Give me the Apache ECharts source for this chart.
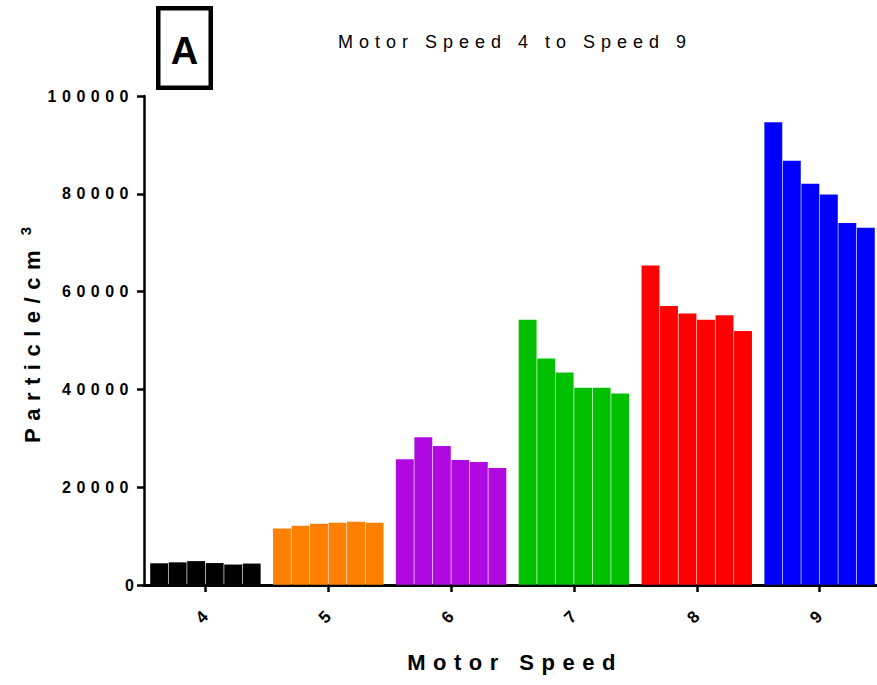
<!DOCTYPE html>
<html>
<head>
<meta charset="utf-8">
<script src="https://cdn.jsdelivr.net/npm/echarts@6/dist/echarts.min.js"></script>
<style>
html,body{margin:0;padding:0;background:#fff;overflow:hidden;}
#chart{width:882px;height:685px;}
</style>
</head>
<body>
<div id="chart"></div>
<script>
const categories = ['4', '5', '6', '7', '8', '9'];
const speed4 = [4500, 4700, 4950, 4550, 4250, 4450];
const speed5 = [11600, 12200, 12600, 12800, 13000, 12800];
const speed6 = [25800, 30300, 28500, 25600, 25200, 24000];
const speed7 = [54300, 46400, 43500, 40400, 40400, 39200];
const speed8 = [65400, 57100, 55600, 54300, 55200, 52000];
const speed9 = [94700, 86800, 82100, 79900, 74100, 73100];
const groupColors = ['#000000', '#FF8000', '#AF08E0', '#00C000', '#FF0000', '#0000FF'];
const yTicks = [0, 20000, 40000, 60000, 80000, 100000];
const titleText = 'Motor Speed 4 to Speed 9';
const xName = 'Motor Speed';
const yName = 'Particle/cm';
const ySup = '3';
const panelLabel = 'A';

const groups = [speed4, speed5, speed6, speed7, speed8, speed9];
const FONT = '"Liberation Sans", Arial, Helvetica, sans-serif';

const series = [];
for (let i = 0; i < 6; i++) {
  series.push({
    type: 'bar',
    name: 'rep' + (i + 1),
    barGap: 0,
    barCategoryGap: '9.6%',
    data: groups.map((g, k) => ({
      value: g[i],
      itemStyle: { color: groupColors[k], borderColor: 'rgba(255,255,255,0.07)', borderWidth: 0.6 }
    })),
    silent: true
  });
}

const chart = echarts.init(document.getElementById('chart'), null, { renderer: 'svg' });
chart.setOption({
  animation: false,
  backgroundColor: '#ffffff',
  grid: { left: 144, right: 1, top: 96, bottom: 100, containLabel: false },
  xAxis: {
    type: 'category',
    data: categories,
    axisLine: { show: true, lineStyle: { color: '#000', width: 3 } },
    axisTick: { show: true, alignWithLabel: true, length: 7, lineStyle: { color: '#000', width: 2.5 } },
    axisLabel: { rotate: 45, margin: 29, fontFamily: FONT, fontWeight: 'bold', fontSize: 17, color: '#000' },
    splitLine: { show: false }
  },
  yAxis: {
    type: 'value',
    min: yTicks[0],
    max: yTicks[yTicks.length - 1],
    interval: yTicks[1] - yTicks[0],
    axisLine: { show: true, lineStyle: { color: '#000', width: 2.5 } },
    axisTick: { show: true, length: 7, lineStyle: { color: '#000', width: 2.5 } },
    axisLabel: { margin: 10, fontFamily: FONT, fontWeight: 'bold', fontSize: 16, color: '#000', formatter: v => String(v) },
    splitLine: { show: false }
  },
  graphic: [
    { type: 'text', x: 515, y: 42, style: { text: titleText, font: '18px ' + FONT, fill: '#000', align: 'center', verticalAlign: 'middle' } },
    { type: 'text', x: 515, y: 662, style: { text: xName, font: 'bold 22px ' + FONT, fill: '#000', align: 'center', verticalAlign: 'middle' } },
    { type: 'text', x: 32, y: 343, rotation: Math.PI / 2, style: { text: yName, font: 'bold 22px ' + FONT, fill: '#000', align: 'center', verticalAlign: 'middle' } },
    { type: 'text', x: 25, y: 231, rotation: Math.PI / 2, style: { text: ySup, font: 'bold 15px ' + FONT, fill: '#000', align: 'center', verticalAlign: 'middle' } },
    { type: 'rect', shape: { x: 158.25, y: 8.25, width: 52.5, height: 79.5 }, style: { fill: '#fff', stroke: '#000', lineWidth: 4.5 } },
    { type: 'text', x: 184.5, y: 51, style: { text: panelLabel, font: 'bold 38px ' + FONT, fill: '#000', align: 'center', verticalAlign: 'middle' } }
  ],
  series: series
});

function applySpacing() {
  const texts = document.querySelectorAll('#chart text');
  texts.forEach(t => {
    const s = t.textContent;
    let ls = null;
    if (s === titleText) ls = 6;
    else if (s === xName) ls = 7.5;
    else if (s === yName) ls = 7.5;
    else if (/^\d{2,}$/.test(s)) ls = 5.5;
    if (ls !== null) t.style.letterSpacing = ls + 'px';
  });
}
chart.on('finished', applySpacing);
applySpacing();
setTimeout(applySpacing, 50);
setTimeout(applySpacing, 300);
</script>
</body>
</html>
